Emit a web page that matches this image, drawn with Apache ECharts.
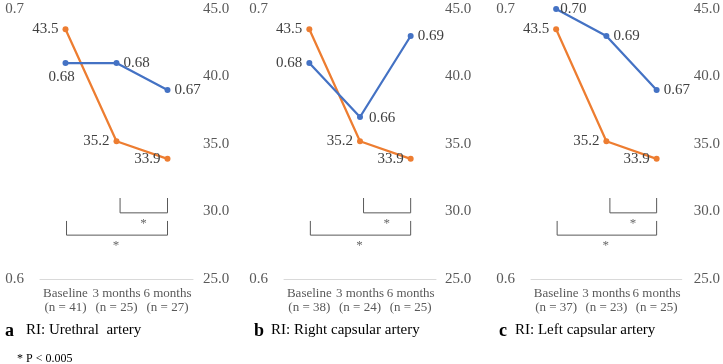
<!DOCTYPE html>
<html>
<head>
<meta charset="utf-8">
<script src="https://cdn.jsdelivr.net/npm/echarts@6/dist/echarts.min.js"></script>
<style>
  html, body { margin: 0; padding: 0; background: #fff; }
  #chart { width: 723px; height: 364px; }
</style>
</head>
<body>
<div id="chart"></div>
<script>
// data
var categories = ['Baseline', '3 months', '6 months'];
var panelLetters = ['a', 'b', 'c'];
var panelTitles = ['RI: Urethral  artery', 'RI: Right capsular artery', 'RI: Left capsular artery'];
var nCounts = [[41, 25, 27], [38, 24, 25], [37, 23, 25]];
var riUrethral = [0.68, 0.68, 0.67];
var riRight = [0.68, 0.66, 0.69];
var riLeft = [0.70, 0.69, 0.67];
var orangeValues = [43.5, 35.2, 33.9];
var leftTicks = [0.6, 0.7];
var rightTicks = [25, 30, 35, 40, 45];
// significance brackets (x in category units, y on the right axis)
var bracketUpper = [[1.07, 31.0], [1.07, 29.9], [2.0, 29.9], [2.0, 31.0]];
var bracketLower = [[0.02, 29.3], [0.02, 28.25], [2.0, 28.25], [2.0, 29.3]];
var starMarks = [[1.53, 29.1], [0.99, 27.45]];
var footnote = '* P < 0.005';

var riSets = [riUrethral, riRight, riLeft];
var blueLabelPos = [['bottom', 'right', 'right'], ['left', 'right', 'right'], ['right', 'right', 'right']];
var blueLabelOffset = [[[-4, 0], [0, 0], [0, 0]], [[0, 0], [2, 1], [0, 0]], [[-3, 0], [0, 0], [0, 0]]];

var SERIF = '"Liberation Serif", "Times New Roman", serif';
var BLUE = '#4472C4', ORANGE = '#ED7D31';

var grids = [
  {left: 40, top: 9, width: 153, height: 270},
  {left: 284, top: 9, width: 152, height: 270},
  {left: 531, top: 9, width: 151, height: 270}
];
var rightMargins = [10, 9, 12];

var xAxes = [], yAxes = [], series = [], graphics = [];

grids.forEach(function(g, i) {
  xAxes.push({
    type: 'category', gridIndex: i, data: categories.map(function(c, k) {
      return c + '\n(n = ' + nCounts[i][k] + ')';
    }),
    boundaryGap: true,
    axisLine: {lineStyle: {color: '#d9d9d9', width: 1}},
    axisTick: {show: false},
    axisLabel: {fontFamily: SERIF, fontSize: 13, lineHeight: 14, color: '#595959', margin: 8, interval: 0}
  });
  xAxes.push({type: 'value', gridIndex: i, min: -0.5, max: 2.5, show: false});

  yAxes.push({
    type: 'value', gridIndex: i, min: leftTicks[0], max: leftTicks[leftTicks.length - 1], interval: 0.1,
    axisLine: {show: false}, axisTick: {show: false}, splitLine: {show: false},
    axisLabel: {fontFamily: SERIF, fontSize: 15, color: '#595959', margin: 16,
      formatter: function(v) { return v.toFixed(1); }}
  });
  yAxes.push({
    type: 'value', gridIndex: i, position: 'right',
    min: rightTicks[0], max: rightTicks[rightTicks.length - 1], interval: 5,
    axisLine: {show: false}, axisTick: {show: false}, splitLine: {show: false},
    axisLabel: {fontFamily: SERIF, fontSize: 15, color: '#595959', margin: rightMargins[i],
      formatter: function(v) { return v.toFixed(1); }}
  });

  var labelBase = {show: true, fontFamily: SERIF, fontSize: 15, color: '#404040', distance: 4};

  series.push({
    type: 'line', xAxisIndex: i * 2, yAxisIndex: i * 2 + 1,
    data: orangeValues.map(function(v) {
      return {value: v, label: {position: 'left'}};
    }),
    symbol: 'circle', symbolSize: 6, itemStyle: {color: ORANGE},
    lineStyle: {color: ORANGE, width: 2.25},
    label: Object.assign({}, labelBase, {formatter: function(p) { return p.value.toFixed(1); }}),
    z: 3, animation: false
  });
  series.push({
    type: 'line', xAxisIndex: i * 2, yAxisIndex: i * 2,
    data: riSets[i].map(function(v, k) {
      return {value: v, label: {position: blueLabelPos[i][k], offset: blueLabelOffset[i][k]}};
    }),
    symbol: 'circle', symbolSize: 6, itemStyle: {color: BLUE},
    lineStyle: {color: BLUE, width: 2.25},
    label: Object.assign({}, labelBase, {formatter: function(p) { return p.value.toFixed(2); }}),
    z: 4, animation: false
  });

  [bracketUpper, bracketLower].forEach(function(b) {
    series.push({
      type: 'line', xAxisIndex: i * 2 + 1, yAxisIndex: i * 2 + 1, data: b,
      symbol: 'none', lineStyle: {color: '#595959', width: 1}, silent: true, animation: false
    });
  });
  series.push({
    type: 'scatter', xAxisIndex: i * 2 + 1, yAxisIndex: i * 2 + 1, data: starMarks,
    symbolSize: 0, silent: true, animation: false,
    label: {show: true, position: 'inside', formatter: '*', fontFamily: SERIF, fontSize: 13, color: '#404040'}
  });
});

var letterX = [5, 254, 499];
var titleX = [26, 271, 515];
panelLetters.forEach(function(l, i) {
  graphics.push({type: 'text', left: letterX[i], top: 322,
    style: {text: l, font: 'bold 18px ' + SERIF, fill: '#000'}});
  graphics.push({type: 'text', left: titleX[i], top: 323,
    style: {text: panelTitles[i], font: '15px ' + SERIF, fill: '#000'}});
});
graphics.push({type: 'text', left: 17, top: 353,
  style: {text: footnote, font: '12px ' + SERIF, fill: '#000'}});

var chart = echarts.init(document.getElementById('chart'));
chart.setOption({
  animation: false,
  grid: grids,
  xAxis: xAxes,
  yAxis: yAxes,
  series: series,
  graphic: graphics
});
</script>
</body>
</html>
